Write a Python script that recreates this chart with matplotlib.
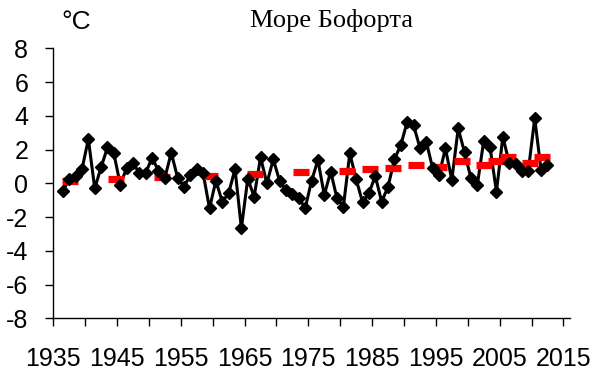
import numpy as np
import matplotlib
matplotlib.use("Agg")
import matplotlib.pyplot as plt
from matplotlib.ticker import FixedLocator, NullFormatter

plt.rcParams['font.family'] = ['Liberation Sans', 'DejaVu Sans']

# годовые аномалии температуры, Море Бофорта, 1936-2012
years = np.arange(1936, 2013)
anom = [-0.46, 0.24, 0.43, 0.83, 2.62, -0.30, 0.95, 2.13, 1.78, -0.08,
        0.89, 1.18, 0.63, 0.63, 1.52, 0.73, 0.33, 1.81, 0.33, -0.20,
        0.49, 0.85, 0.59, -1.48, 0.15, -1.09, -0.59, 0.85, -2.66, 0.27,
        -0.79, 1.54, 0.00, 1.42, 0.14, -0.40, -0.63, -0.85, -1.48, 0.14,
        1.38, -0.69, 0.69, -0.89, -1.38, 1.78, 0.24, -1.12, -0.59, 0.43,
        -1.09, -0.20, 1.42, 2.27, 3.64, 3.45, 2.11, 2.46, 0.89, 0.49,
        2.07, 0.20, 3.25, 1.83, 0.30, -0.10, 2.52, 2.13, -0.50, 2.76,
        1.22, 1.14, 0.75, 0.75, 3.85, 0.79, 1.10]

# тренд (красный пунктир)
trend_x = [1937.6, 1944.8, 1952.1, 1959.5, 1966.7, 1973.8, 1981.0, 1984.6,
           1988.2, 1991.9, 1995.5, 1999.1, 2002.5, 2004.5, 2006.3, 2009.8, 2011.6]
trend_y = [0.14, 0.24, 0.36, 0.45, 0.57, 0.67, 0.75, 0.83,
           0.89, 1.08, 0.98, 1.32, 1.07, 1.32, 1.57, 1.18, 1.54]

label_years = [1935, 1945, 1955, 1965, 1975, 1985, 1995, 2005, 2015]
minor_years = [1940, 1950, 1960, 1970, 1980, 1990, 2000, 2010]
yticks = [-8, -6, -4, -2, 0, 2, 4, 6, 8]

fig = plt.figure(figsize=(5.96, 3.72), dpi=100)
ax = fig.add_axes([0.0894, 0.1444, 0.8666, 0.7256])

# среднегодовые значения ставим на середину года
x = years + 0.5
ax.plot(x, anom, color='black', lw=2.2, zorder=2)
ax.plot(trend_x, trend_y, ls='none', marker='_', ms=11, mew=5.2,
        color='#ff0000', zorder=3)
ax.plot(x, anom, ls='none', marker='D', ms=6.5, color='black', zorder=4)

ax.set_xlim(1935, 2016)
ax.set_ylim(-8, 8)
ax.xaxis.set_major_locator(FixedLocator(label_years))
ax.xaxis.set_minor_locator(FixedLocator(minor_years))
ax.xaxis.set_minor_formatter(NullFormatter())
ax.set_yticks(yticks)
ax.set_yticklabels([str(v) for v in yticks])

for s in ['top', 'right']:
    ax.spines[s].set_visible(False)
for s in ['left', 'bottom']:
    ax.spines[s].set_linewidth(1.0)
    ax.spines[s].set_color('black')

ax.tick_params(axis='x', which='both', direction='out', length=5.5, width=1.0,
               pad=15, labelsize=18)
ax.tick_params(axis='y', direction='out', length=6, width=1.0, pad=12,
               labelsize=18)

fig.text(0.103, 0.94, '°C', fontsize=19, ha='left', va='center')
fig.text(0.556, 0.945, 'Море Бофорта', fontsize=19, ha='center', va='center',
         family='Liberation Serif')

fig.savefig('out.png', dpi=100)
